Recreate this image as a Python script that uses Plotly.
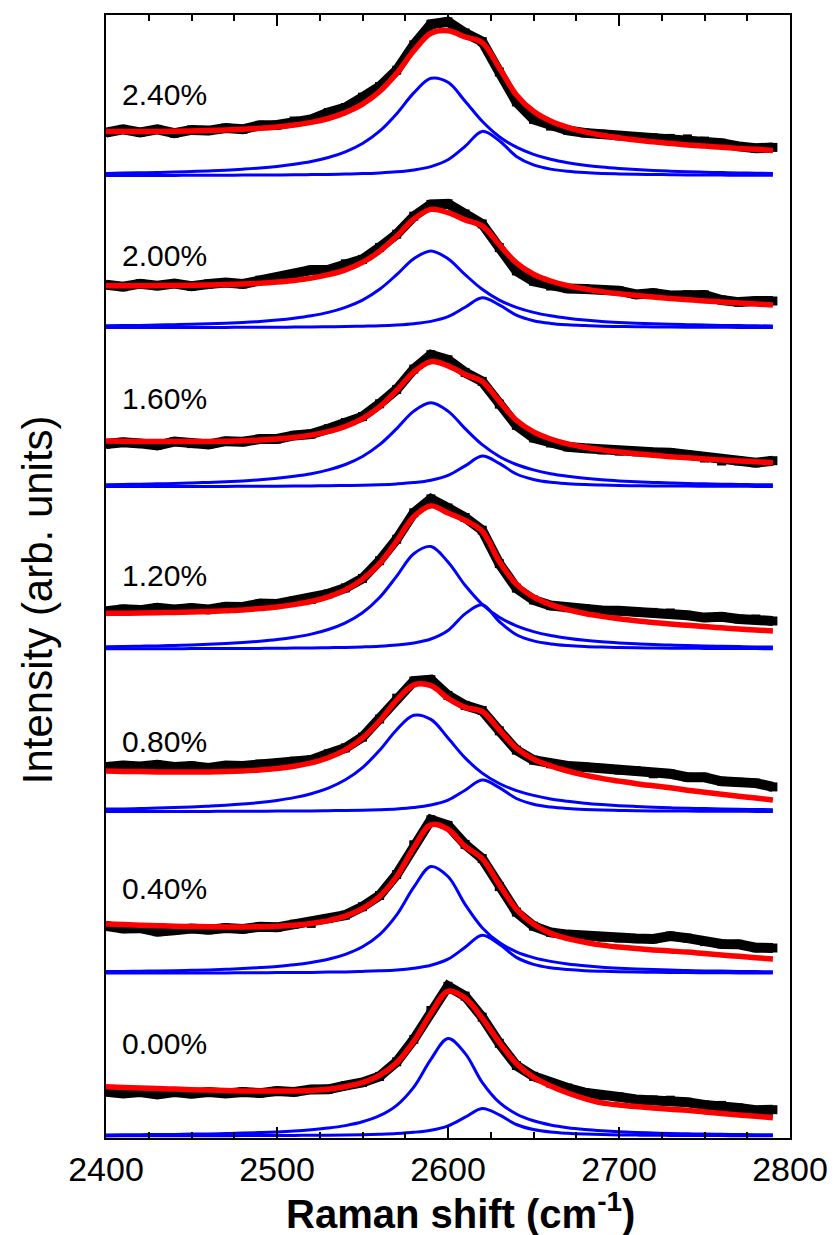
import plotly.graph_objects as go

# ---------------- data ----------------
# Raman shift grid (cm-1)
RAMAN_SHIFT = list(range(2400, 2800, 10))

STRAIN_LABELS = ["2.40%", "2.00%", "1.60%", "1.20%", "0.80%", "0.40%", "0.00%"]
# vertical offset of each stacked spectrum (arb. units)
OFFSETS = [962.3, 810.3, 651.3, 489.0, 326.3, 164.7, 2.0]

# total fit (red), above each spectrum's own baseline
FIT_240 = [44.2, 44.3, 44.3, 44.3, 44.5, 44.8, 45.1, 45.6, 46.4, 47.4, 48.8, 50.7, 53.3, 57.2, 63.1, 71.5, 84.2, 102.5, 124.9, 142.5,
           144.9, 138.8, 133.1, 107.7, 80.8, 64.4, 54.6, 48.3, 43.8, 40.5, 37.9, 35.7, 33.9, 32.3, 30.8, 29.6, 28.5, 27.3, 26.4, 25.3]
FIT_200 = [42.0, 42.0, 42.0, 42.1, 42.2, 42.4, 42.7, 43.1, 43.7, 44.5, 45.7, 47.3, 49.6, 53.0, 57.9, 65.3, 76.3, 91.5, 108.5, 118.3,
           115.0, 107.8, 101.8, 83.1, 64.8, 53.5, 46.7, 42.1, 38.8, 36.1, 34.0, 32.2, 30.6, 29.2, 28.0, 26.8, 25.7, 24.6, 23.7, 22.7]
FIT_160 = [45.7, 45.4, 45.3, 45.2, 45.1, 45.1, 45.2, 45.5, 45.9, 46.6, 47.7, 49.3, 51.6, 55.0, 60.2, 68.1, 79.9, 96.3, 114.6, 125.0,
           120.9, 112.3, 105.3, 85.6, 66.4, 54.8, 47.7, 42.8, 39.4, 36.8, 34.6, 32.9, 31.4, 30.0, 28.9, 27.7, 26.7, 25.8, 24.9, 24.0]
FIT_120 = [35.7, 35.8, 35.9, 36.2, 36.6, 36.9, 37.5, 38.3, 39.1, 40.4, 42.0, 44.4, 47.5, 52.2, 59.1, 69.6, 85.3, 107.8, 132.2, 143.1,
           136.0, 128.5, 117.8, 87.4, 64.9, 52.1, 44.4, 39.3, 35.5, 32.6, 30.2, 28.2, 26.6, 25.0, 23.7, 22.4, 21.2, 20.0, 19.0, 18.0]
FIT_080 = [40.7, 40.3, 40.1, 39.8, 39.7, 39.7, 39.8, 40.1, 40.7, 41.7, 43.2, 45.5, 48.8, 53.9, 61.8, 73.6, 90.7, 111.5, 126.6, 126.0,
           113.3, 104.3, 100.2, 81.9, 63.6, 52.6, 45.9, 40.7, 36.6, 33.3, 30.6, 28.0, 25.9, 23.9, 21.5, 19.4, 17.4, 15.5, 13.6, 11.8]
FIT_040 = [49.3, 48.7, 48.1, 47.6, 47.1, 46.8, 46.5, 46.3, 46.3, 46.5, 47.0, 48.1, 49.9, 52.7, 57.2, 64.6, 76.8, 96.8, 125.5, 148.5,
           143.9, 126.9, 114.7, 88.7, 64.2, 49.2, 39.9, 34.7, 31.1, 28.2, 26.3, 24.7, 23.4, 22.3, 21.2, 19.7, 18.3, 17.0, 15.6, 14.3]
FIT_000 = [49.3, 48.6, 48.0, 47.5, 46.9, 46.3, 45.9, 45.5, 45.1, 44.9, 44.9, 45.1, 45.6, 46.7, 49.4, 53.5, 60.6, 73.2, 94.6, 122.5,
           144.7, 137.9, 117.8, 93.7, 72.5, 58.7, 50.0, 43.0, 37.4, 33.1, 31.1, 29.5, 28.1, 26.8, 25.7, 24.1, 22.6, 21.1, 19.7, 18.3]

# main 2D component (blue)
MAIN_240 = [2.3, 2.6, 2.9, 3.2, 3.6, 4.2, 4.8, 5.5, 6.5, 7.7, 9.3, 11.4, 14.2, 18.2, 23.9, 32.2, 44.5, 62.0, 82.8, 97.4,
            93.4, 74.5, 54.4, 39.0, 28.5, 21.3, 16.4, 13.0, 10.5, 8.6, 7.2, 6.1, 5.2, 4.5, 3.9, 3.5, 3.1, 2.7, 2.5, 2.2]
MAIN_200 = [1.9, 2.1, 2.3, 2.6, 3.0, 3.4, 3.9, 4.5, 5.3, 6.3, 7.7, 9.5, 11.9, 15.3, 20.3, 27.6, 38.4, 53.1, 69.0, 76.7,
            69.0, 53.1, 38.4, 27.6, 20.3, 15.3, 11.9, 9.5, 7.7, 6.3, 5.3, 4.5, 3.9, 3.4, 3.0, 2.6, 2.3, 2.1, 1.9, 1.7]
MAIN_160 = [2.0, 2.3, 2.5, 2.9, 3.2, 3.7, 4.3, 4.9, 5.8, 6.9, 8.4, 10.4, 13.0, 16.8, 22.2, 30.2, 42.0, 58.1, 75.6, 84.0,
            75.6, 58.1, 42.0, 30.2, 22.2, 16.8, 13.0, 10.4, 8.4, 6.9, 5.8, 4.9, 4.3, 3.7, 3.2, 2.9, 2.5, 2.3, 2.0, 1.9]
MAIN_120 = [2.2, 2.5, 2.8, 3.1, 3.6, 4.1, 4.7, 5.5, 6.5, 7.8, 9.5, 11.8, 14.9, 19.5, 26.2, 36.3, 51.5, 72.9, 95.3, 102.5,
            87.0, 63.7, 44.7, 31.7, 23.2, 17.4, 13.5, 10.8, 8.7, 7.2, 6.1, 5.2, 4.4, 3.9, 3.4, 3.0, 2.7, 2.4, 2.1, 2.0]
MAIN_080 = [2.6, 2.8, 3.2, 3.6, 4.1, 4.7, 5.5, 6.4, 7.6, 9.2, 11.3, 14.1, 18.0, 23.6, 31.9, 44.1, 61.4, 82.0, 96.4, 92.3,
            73.7, 53.8, 38.6, 28.2, 21.1, 16.3, 12.8, 10.4, 8.5, 7.1, 6.0, 5.2, 4.5, 3.9, 3.4, 3.1, 2.7, 2.4, 2.2, 2.0]
MAIN_040 = [1.7, 1.8, 2.1, 2.3, 2.6, 3.0, 3.4, 4.0, 4.7, 5.7, 6.9, 8.5, 10.8, 14.0, 18.9, 26.5, 38.7, 58.4, 86.1, 106.8,
            96.8, 68.9, 45.6, 30.7, 21.5, 15.7, 11.9, 9.3, 7.5, 6.1, 5.1, 4.3, 3.7, 3.2, 2.8, 2.4, 2.2, 1.9, 1.7, 1.6]
MAIN_000 = [1.1, 1.2, 1.3, 1.5, 1.6, 1.9, 2.1, 2.5, 2.9, 3.4, 4.0, 4.9, 6.2, 7.9, 10.4, 14.2, 20.3, 30.7, 48.9, 76.7,
            97.5, 82.6, 53.7, 33.6, 22.0, 15.2, 11.0, 8.3, 6.5, 5.2, 4.2, 3.5, 3.0, 2.5, 2.2, 1.9, 1.7, 1.5, 1.3, 1.2]

# second (high-shift) component (blue)
PEAK2_240 = [0.2, 0.3, 0.3, 0.3, 0.3, 0.4, 0.4, 0.5, 0.6, 0.7, 0.8, 0.9, 1.1, 1.3, 1.7, 2.1, 2.8, 3.9, 5.8, 9.1,
             15.9, 29.3, 44.3, 35.0, 19.3, 10.8, 6.6, 4.4, 3.1, 2.3, 1.8, 1.4, 1.2, 1.0, 0.8, 0.7, 0.6, 0.5, 0.5, 0.4]
PEAK2_200 = [0.2, 0.2, 0.2, 0.2, 0.2, 0.3, 0.3, 0.3, 0.4, 0.4, 0.5, 0.6, 0.7, 0.9, 1.1, 1.5, 1.9, 2.7, 4.0, 6.3,
             11.0, 20.4, 29.9, 22.8, 12.5, 7.0, 4.3, 2.9, 2.1, 1.5, 1.2, 0.9, 0.8, 0.6, 0.5, 0.5, 0.4, 0.3, 0.3, 0.3]
PEAK2_160 = [0.2, 0.2, 0.2, 0.2, 0.2, 0.3, 0.3, 0.3, 0.4, 0.5, 0.5, 0.6, 0.8, 0.9, 1.2, 1.5, 2.0, 2.8, 4.1, 6.5,
             11.3, 20.8, 30.6, 23.3, 12.7, 7.2, 4.4, 3.0, 2.1, 1.6, 1.2, 1.0, 0.8, 0.7, 0.6, 0.5, 0.4, 0.4, 0.3, 0.3]
PEAK2_120 = [0.2, 0.2, 0.3, 0.3, 0.3, 0.4, 0.4, 0.5, 0.5, 0.6, 0.7, 0.9, 1.0, 1.3, 1.6, 2.1, 2.8, 4.0, 6.1, 10.0,
             18.5, 35.1, 44.2, 27.5, 14.3, 8.1, 5.1, 3.5, 2.5, 1.9, 1.5, 1.2, 1.0, 0.8, 0.7, 0.6, 0.5, 0.4, 0.4, 0.3]
PEAK2_080 = [0.2, 0.2, 0.2, 0.2, 0.3, 0.3, 0.3, 0.4, 0.4, 0.5, 0.6, 0.7, 0.8, 1.0, 1.2, 1.5, 2.0, 2.8, 4.2, 6.7,
             11.6, 21.5, 31.6, 24.1, 13.2, 7.4, 4.6, 3.1, 2.2, 1.6, 1.3, 1.0, 0.8, 0.7, 0.6, 0.5, 0.4, 0.4, 0.3, 0.3]
PEAK2_040 = [0.2, 0.2, 0.2, 0.3, 0.3, 0.3, 0.4, 0.4, 0.5, 0.6, 0.7, 0.8, 0.9, 1.2, 1.4, 1.9, 2.5, 3.4, 5.1, 8.0,
             14.1, 26.0, 38.1, 29.1, 15.9, 8.9, 5.5, 3.7, 2.6, 2.0, 1.5, 1.2, 1.0, 0.8, 0.7, 0.6, 0.5, 0.4, 0.4, 0.3]
PEAK2_000 = [0.1, 0.2, 0.2, 0.2, 0.2, 0.2, 0.3, 0.3, 0.4, 0.4, 0.5, 0.6, 0.7, 0.8, 1.0, 1.3, 1.8, 2.5, 3.7, 5.8,
             10.2, 18.8, 27.6, 21.1, 11.5, 6.5, 4.0, 2.7, 1.9, 1.4, 1.1, 0.9, 0.7, 0.6, 0.5, 0.4, 0.4, 0.3, 0.3, 0.3]

# measured data minus fit (residuals read from the black points)
RESID_240 = [-1, 2, -1, 2, -2, 1, 0, 2, 0, 3, 2, 4, 3, 6, 5, 7, 5, 3, 6, 9, 9, 4, 1, -4, -7, -8, -5, -3, -1, 1, 2, 3, 4, 5, 6, 5, 4, 2, 1, 3]
RESID_200 = [1, -1, 2, 0, 2, -1, 1, 2, 0, 3, 4, 6, 8, 5, 6, 3, 4, 2, 3, 5, 9, 6, 2, -3, -8, -7, -5, -3, 0, 2, 3, 1, 4, 3, 5, 6, 2, 1, 3, 4]
RESID_160 = [-3, -1, -2, -4, 0, -2, -3, 0, -1, 1, 0, 2, 1, 3, 4, 2, 3, 1, 3, 7, 6, 2, 0, -3, -5, -6, -4, -3, -1, 0, 1, 2, 3, 4, 3, 1, -1, 0, -1, 2]
RESID_120 = [2, 4, 3, 5, 3, 4, 2, 4, 3, 5, 3, 4, 2, 3, 2, 1, 3, 2, 4, 7, 5, 3, 1, -2, -4, -3, -1, 2, 5, 6, 8, 9, 10, 11, 10, 9, 11, 10, 11, 10]
RESID_080 = [4, 6, 5, 7, 5, 6, 4, 6, 5, 6, 4, 5, 3, 4, 2, 1, 2, 2, 4, 6, 3, 2, 1, -1, -2, -1, 2, 5, 8, 10, 11, 13, 12, 14, 13, 15, 13, 14, 15, 13]
RESID_040 = [-2, -4, -3, -6, -4, -2, -3, -1, -2, 0, -1, 1, 0, 2, 1, 2, 1, 2, 3, 5, 4, 2, 0, -2, -3, -2, 1, 4, 6, 8, 9, 10, 11, 15, 14, 12, 11, 12, 10, 11]
RESID_000 = [-5, -6, -4, -6, -3, -4, -2, -3, -1, -2, 0, -1, 1, 0, 1, 0, -1, 1, 2, 3, 5, 2, 1, -1, -2, 1, 3, 5, 6, 7, 8, 7, 8, 9, 8, 7, 8, 7, 6, 8]

FITS = [FIT_240, FIT_200, FIT_160, FIT_120, FIT_080, FIT_040, FIT_000]
MAINS = [MAIN_240, MAIN_200, MAIN_160, MAIN_120, MAIN_080, MAIN_040, MAIN_000]
PEAK2S = [PEAK2_240, PEAK2_200, PEAK2_160, PEAK2_120, PEAK2_080, PEAK2_040, PEAK2_000]
RESIDS = [RESID_240, RESID_200, RESID_160, RESID_120, RESID_080, RESID_040, RESID_000]

# ---------------- figure ----------------
FONT = "Arial, 'Liberation Sans', Helvetica, sans-serif"
ML, MR, MT, MB = 106, 38, 15, 97
PW = 840 - ML - MR
PH = 1235 - MT - MB
fig = go.Figure()

for lab, off, fit, res in zip(STRAIN_LABELS, OFFSETS, FITS, RESIDS):
    data_y = [off + f + r for f, r in zip(fit, res)]
    fig.add_trace(go.Scatter(
        x=RAMAN_SHIFT, y=data_y, mode="lines+markers", name=lab + " data",
        line=dict(color="black", width=10),
        marker=dict(symbol="square", size=9, color="black"),
        showlegend=False, hoverinfo="skip"))

for lab, off, fit, main, p2 in zip(STRAIN_LABELS, OFFSETS, FITS, MAINS, PEAK2S):
    fig.add_trace(go.Scatter(
        x=RAMAN_SHIFT, y=[off + v for v in main], mode="lines",
        line=dict(color="#0000FF", width=3, shape="spline", smoothing=1.0),
        showlegend=False))
    fig.add_trace(go.Scatter(
        x=RAMAN_SHIFT, y=[off + v for v in p2], mode="lines",
        line=dict(color="#0000FF", width=3, shape="spline", smoothing=1.0),
        showlegend=False))
    fig.add_trace(go.Scatter(
        x=RAMAN_SHIFT, y=[off + v for v in fit], mode="lines",
        line=dict(color="#FF0000", width=5.5, shape="spline", smoothing=1.0),
        showlegend=False))

# strain labels
label_dy = [81.2, 72.7, 88.4, 74.0, 70.7, 85.0, 92.7]
for lab, off, dy in zip(STRAIN_LABELS, OFFSETS, label_dy):
    fig.add_annotation(x=2408, y=off + dy, xref="x", yref="y", text=lab,
                       showarrow=False, xanchor="left", yanchor="middle",
                       font=dict(family=FONT, size=30, color="black"))

# axis titles (placed by pixel position of the reference)
fig.add_annotation(x=(467 - ML) / PW, y=(1138 - 1211) / PH, xref="paper", yref="paper",
                   text="<b>Raman shift (cm<sup>-1</sup>)</b>", showarrow=False,
                   xanchor="center", yanchor="middle",
                   font=dict(family=FONT, size=40, color="black"))
fig.add_annotation(x=(36 - ML) / PW, y=(1138 - 600) / PH, xref="paper", yref="paper",
                   text="Intensity (arb. units)", showarrow=False, textangle=-90,
                   xanchor="center", yanchor="middle",
                   font=dict(family=FONT, size=42, color="black"))

fig.update_layout(
    width=840, height=1235,
    margin=dict(l=ML, r=MR, t=MT, b=MB),
    paper_bgcolor="white", plot_bgcolor="white",
    showlegend=False,
    xaxis=dict(range=[2400, 2800], tickvals=[2400, 2500, 2600, 2700, 2800],
               ticks="inside", ticklen=11, tickwidth=2, tickcolor="black",
               showline=True, linewidth=2, linecolor="black", mirror="ticks",
               minor=dict(dtick=25, ticks="inside", ticklen=6, tickwidth=1.5, tickcolor="black"),
               showgrid=False, zeroline=False, ticklabelstandoff=0,
               tickfont=dict(family=FONT, size=34, color="black")),
    yaxis=dict(range=[0, 1123], showticklabels=False, ticks="",
               showline=True, linewidth=2, linecolor="black", mirror=True,
               showgrid=False, zeroline=False),
)

fig.write_html("out.html", config={"displayModeBar": False},
               post_script="document.body.style.margin='0';document.body.style.overflow='hidden';")
